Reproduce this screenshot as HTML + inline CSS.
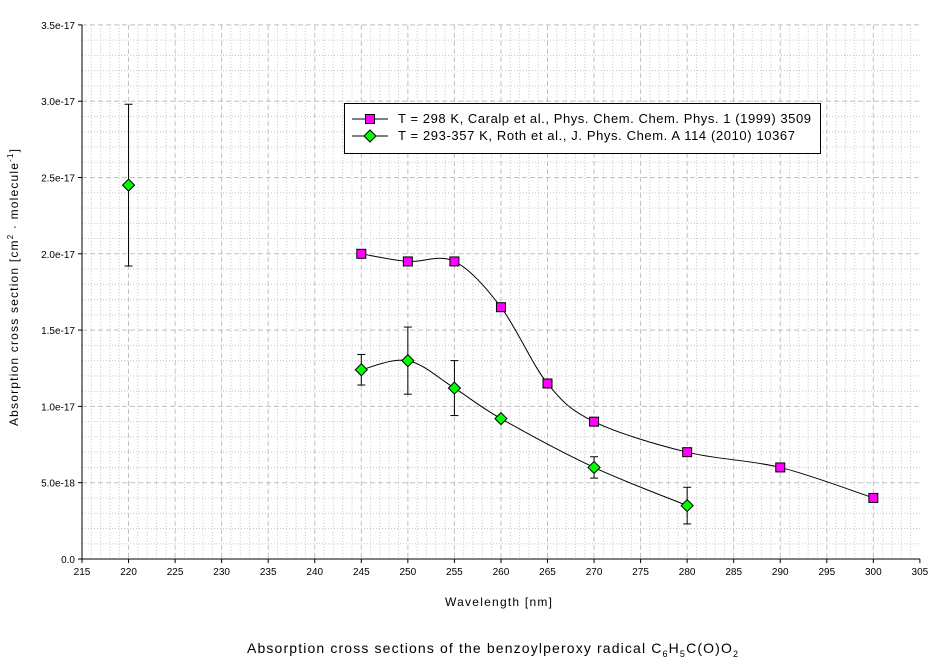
<!DOCTYPE html><html><head><style>body{margin:0;background:#fff}svg{display:block;font-family:"Liberation Sans",Arial,sans-serif}</style></head><body>
<svg id="s" width="942" height="665" xmlns="http://www.w3.org/2000/svg"></svg>
<script>
const s=document.getElementById('s');let h='';
const X=w=>82+(w-215)*9.31, Y=v=>559-v*152.6;
const L=82,R=X(305),T=Y(3.5),B=559;
for(let w=216;w<305;w++){if(w%5)h+=`<line x1="${X(w)}" x2="${X(w)}" y1="${T}" y2="${B}" stroke="#c8c8c8" stroke-dasharray="1,2"/>`;}
for(let i=1;i<35;i++){if(i%5)h+=`<line x1="${L}" x2="${R}" y1="${Y(i/10)}" y2="${Y(i/10)}" stroke="#c8c8c8" stroke-dasharray="1,2"/>`;}
for(let w=220;w<305;w+=5)h+=`<line x1="${X(w)}" x2="${X(w)}" y1="${T}" y2="${B}" stroke="#c0c0c0" stroke-dasharray="5,3"/>`;
for(let i=1;i<=7;i++)h+=`<line x1="${L}" x2="${R}" y1="${Y(i/2)}" y2="${Y(i/2)}" stroke="#c0c0c0" stroke-dasharray="5,3"/>`;
h+=`<line x1="${L}" y1="${T}" x2="${L}" y2="${B}" stroke="#000"/><line x1="${L}" y1="${B}" x2="${R}" y2="${B}" stroke="#000"/>`;
for(let w=215;w<=305;w+=5){h+=`<line x1="${X(w)}" x2="${X(w)}" y1="${B}" y2="${B+4}" stroke="#000"/><text x="${X(w)}" y="${B+16}" font-size="10" text-anchor="middle">${w}</text>`;}
const yl=['0.0','5.0e-18','1.0e-17','1.5e-17','2.0e-17','2.5e-17','3.0e-17','3.5e-17'];
yl.forEach((t,i)=>{h+=`<line x1="${L-4}" x2="${L}" y1="${Y(i/2)}" y2="${Y(i/2)}" stroke="#000"/><text x="${L-7}" y="${Y(i/2)+4}" font-size="10" text-anchor="end">${t}</text>`;});
function spline(p){let d=`M${p[0][0]},${p[0][1]}`;for(let i=0;i<p.length-1;i++){const a=p[i-1]||p[i],b=p[i],c=p[i+1],e=p[i+2]||c;d+=`C${b[0]+(c[0]-a[0])/6},${b[1]+(c[1]-a[1])/6} ${c[0]-(e[0]-b[0])/6},${c[1]-(e[1]-b[1])/6} ${c[0]},${c[1]}`;}return d;}
const pk=[[245,2.0],[250,1.95],[255,1.95],[260,1.65],[265,1.15],[270,0.9],[280,0.7],[290,0.6],[300,0.4]].map(q=>[X(q[0]),Y(q[1])]);
const gr=[[245,1.24,1.14,1.34],[250,1.30,1.08,1.52],[255,1.12,0.94,1.30],[260,0.92],[270,0.60,0.53,0.67],[280,0.35,0.23,0.47]];
h+=`<path d="${spline(pk)}" fill="none" stroke="#000"/>`;
h+=`<path d="${spline(gr.map(q=>[X(q[0]),Y(q[1])]))}" fill="none" stroke="#000"/>`;
[[220,2.45,1.92,2.98],...gr].forEach(q=>{if(q[2]!==undefined){const x=X(q[0]);h+=`<line x1="${x}" x2="${x}" y1="${Y(q[2])}" y2="${Y(q[3])}" stroke="#000"/><line x1="${x-4}" x2="${x+4}" y1="${Y(q[2])}" y2="${Y(q[2])}" stroke="#000"/><line x1="${x-4}" x2="${x+4}" y1="${Y(q[3])}" y2="${Y(q[3])}" stroke="#000"/>`;}});
const sq=(x,y)=>`<rect x="${x-4.5}" y="${y-4.5}" width="9" height="9" fill="#ff00ff" stroke="#000"/>`;
const di=(x,y)=>`<path d="M${x},${y-6}L${x+6},${y}L${x},${y+6}L${x-6},${y}Z" fill="#00ff00" stroke="#000"/>`;
pk.forEach(p=>h+=sq(p[0],p[1]));
[[220,2.45],...gr].forEach(q=>h+=di(X(q[0]),Y(q[1])));
h+=`<rect x="344.5" y="103.5" width="476" height="50" fill="#fff" stroke="#000"/>`;
h+=`<line x1="352" x2="388" y1="119" y2="119" stroke="#000"/>${sq(370,119)}<text x="398" y="123" font-size="13" textLength="413" lengthAdjust="spacing">T = 298 K, Caralp et al., Phys. Chem. Chem. Phys. 1 (1999) 3509</text>`;
h+=`<line x1="352" x2="388" y1="136" y2="136" stroke="#000"/>${di(370,136)}<text x="398" y="140" font-size="13" textLength="397" lengthAdjust="spacing">T = 293-357 K, Roth et al., J. Phys. Chem. A 114 (2010) 10367</text>`;
h+=`<text x="445" y="606" font-size="12" textLength="107" lengthAdjust="spacing">Wavelength [nm]</text>`;
h+=`<text transform="translate(18,426) rotate(-90)" font-size="12" textLength="277" lengthAdjust="spacing">Absorption cross section [cm<tspan font-size="8" dy="-5">2</tspan><tspan dy="5"> · molecule</tspan><tspan font-size="8" dy="-5">-1</tspan><tspan dy="5">]</tspan></text>`;
h+=`<text x="247" y="653" font-size="14" textLength="491" lengthAdjust="spacing">Absorption cross sections of the benzoylperoxy radical C<tspan font-size="9" dy="4">6</tspan><tspan dy="-4">H</tspan><tspan font-size="9" dy="4">5</tspan><tspan dy="-4">C(O)O</tspan><tspan font-size="9" dy="4">2</tspan></text>`;
s.innerHTML=h;
</script></body></html>
